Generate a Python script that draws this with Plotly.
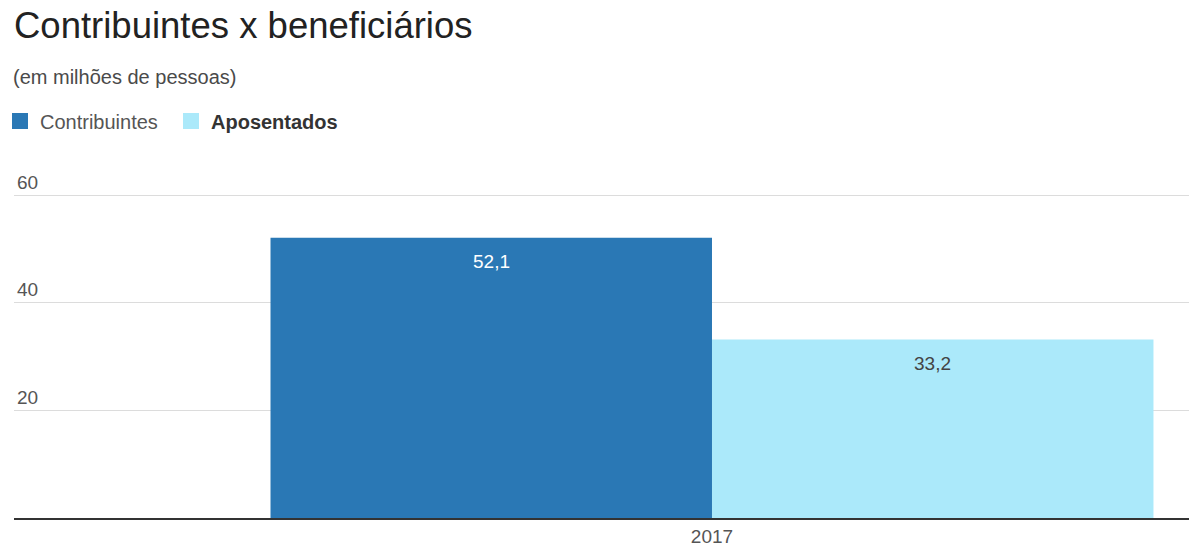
import plotly.graph_objects as go

# Dados (milhões de pessoas)
anos = ["2017"]
contribuintes = [52.1]
aposentados = [33.2]
nomes_series = ["Contribuintes", "Aposentados"]
ticks_y = [20, 40, 60]

titulo = "Contribuintes x beneficiários"
subtitulo = "(em milhões de pessoas)"

COR_CONTRIB = "#2a78b5"
COR_APOS = "#abe9fa"
FONTE = "Arial, Liberation Sans, sans-serif"

W, H = 1189, 551
MARGEM = dict(l=14, r=0, t=171, b=33)
BARGAP = 0.3675
X_RANGE = [-0.5, 0.3417]
Y_RANGE = [0, 64.5]


def fmt_br(v):
    return f"{v:.1f}".replace(".", ",")


fig = go.Figure()
fig.add_trace(go.Bar(
    x=anos, y=contribuintes, name=nomes_series[0],
    marker=dict(color=COR_CONTRIB, line_width=0),
    hoverinfo="skip", showlegend=False,
))
fig.add_trace(go.Bar(
    x=anos, y=aposentados, name=nomes_series[1],
    marker=dict(color=COR_APOS, line_width=0),
    hoverinfo="skip", showlegend=False,
))

# Entradas de legenda com quadrados maiores
for nome, cor in ((nomes_series[0], COR_CONTRIB),
                  (f"<span style='color:#333'><b>{nomes_series[1]}</b></span>", COR_APOS)):
    fig.add_trace(go.Scatter(
        x=[None], y=[None], mode="markers", name=nome,
        marker=dict(symbol="square", size=18, color=cor, line_width=0),
        hoverinfo="skip",
    ))

# Rótulos de valor dentro do topo de cada barra
meia = (1 - BARGAP) / 4
anotacoes = []
for serie, desloc, cor in ((contribuintes, -meia, "#ffffff"), (aposentados, meia, "#444444")):
    for j, v in enumerate(serie):
        anotacoes.append(dict(
            x=j + desloc, y=v, xref="x", yref="y",
            text=fmt_br(v), showarrow=False,
            yanchor="middle", yshift=-24,
            font=dict(family=FONTE, size=19, color=cor),
        ))

altura_plot = H - MARGEM["t"] - MARGEM["b"]
anotacoes.append(dict(
    x=0, xref="paper", xanchor="left", xshift=-3,
    y=1 + (MARGEM["t"] - 77) / altura_plot, yref="paper", yanchor="middle",
    text=subtitulo, showarrow=False,
    font=dict(family=FONTE, size=20, color="#4a4a4a"),
))

fig.update_layout(
    width=W, height=H,
    margin=MARGEM,
    paper_bgcolor="white", plot_bgcolor="white",
    barmode="group", bargap=BARGAP, bargroupgap=0,
    font=dict(family=FONTE, size=19, color="#555555"),
    title=dict(
        text=titulo, x=14 / W, xref="container", xanchor="left",
        y=1 - 25 / H, yref="container", yanchor="middle",
        font=dict(family=FONTE, size=36.5, color="#222222"),
    ),
    legend=dict(
        orientation="h", xref="container", x=0, xanchor="left",
        yref="container", y=1 - 121 / H, yanchor="middle",
        font=dict(family=FONTE, size=20, color="#555555"),
        entrywidth=126, entrywidthmode="pixels",
        bgcolor="rgba(0,0,0,0)", itemclick=False, itemdoubleclick=False,
    ),
    xaxis=dict(
        type="category", range=X_RANGE, showgrid=False,
        showline=True, linecolor="#333333", linewidth=2,
        ticks="", tickfont=dict(family=FONTE, size=19, color="#555555"),
        fixedrange=True,
    ),
    yaxis=dict(
        range=Y_RANGE, tickvals=ticks_y, ticktext=[str(t) for t in ticks_y],
        ticklabelposition="inside top", ticks="",
        showgrid=True, gridcolor="#dcdcdc", gridwidth=1,
        zeroline=False, showline=False,
        tickfont=dict(family=FONTE, size=19, color="#555555"),
        fixedrange=True,
    ),
    annotations=anotacoes,
)

fig.write_html("out.html", config={"displayModeBar": False})
